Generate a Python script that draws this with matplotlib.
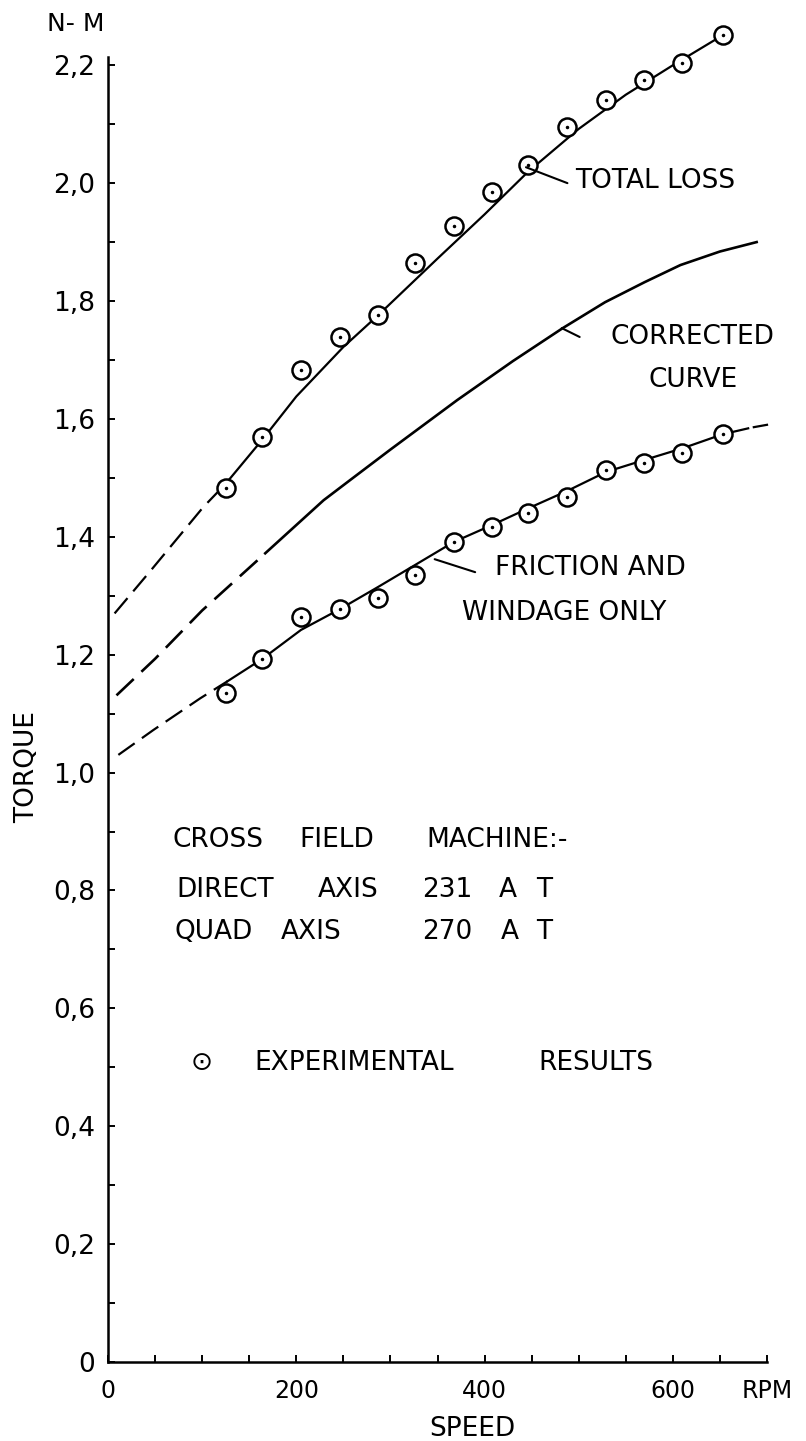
import matplotlib
matplotlib.use('Agg')
import matplotlib.pyplot as plt
from matplotlib.ticker import MultipleLocator

# experimental points (speed in rpm, torque in N-m)
speed = [125, 164, 205, 246, 287, 326, 367, 408, 446, 488, 529, 569, 610, 653]
total_loss = [1.483, 1.569, 1.683, 1.739, 1.776, 1.864, 1.927, 1.985, 2.031, 2.095, 2.141, 2.175, 2.203, 2.251]
friction = [1.135, 1.193, 1.264, 1.277, 1.296, 1.335, 1.391, 1.417, 1.440, 1.467, 1.513, 1.525, 1.542, 1.574]

# hand drawn curves through the points
total_fit_speed = [125, 164, 200, 250, 287, 350, 400, 446, 500, 550, 600, 653]
total_fit = [1.490, 1.565, 1.638, 1.722, 1.776, 1.872, 1.947, 2.019, 2.092, 2.150, 2.200, 2.251]
total_ext_speed = [7, 45, 101, 125]
total_ext = [1.270, 1.342, 1.450, 1.490]

corr_fit_speed = [167, 229, 257, 300, 371, 430, 483, 528, 570, 608, 650, 689]
corr_fit = [1.372, 1.462, 1.496, 1.548, 1.632, 1.698, 1.754, 1.798, 1.832, 1.861, 1.884, 1.900]
corr_ext_speed = [9, 50, 100, 167]
corr_ext = [1.131, 1.193, 1.275, 1.372]

fric_fit_speed = [127, 164, 205, 246, 287, 326, 367, 408, 446, 488, 529, 569, 610, 653, 680]
fric_fit = [1.155, 1.193, 1.242, 1.277, 1.315, 1.352, 1.391, 1.420, 1.448, 1.478, 1.510, 1.530, 1.550, 1.574, 1.584]
fric_ext_speed = [11, 48, 98, 127]
fric_ext = [1.030, 1.072, 1.126, 1.155]
fric_tail_speed = [686, 700]
fric_tail = [1.586, 1.590]

y_ticks = [0, 0.2, 0.4, 0.6, 0.8, 1.0, 1.2, 1.4, 1.6, 1.8, 2.0, 2.2]
y_labels = ['0', '0,2', '0,4', '0,6', '0,8', '1,0', '1,2', '1,4', '1,6', '1,8', '2,0', '2,2']
x_ticks = [0, 200, 400, 600, 700]
x_labels = ['0', '200', '400', '600', 'RPM']

plt.rcParams['font.family'] = ['DejaVu Sans']
FS = 19

W, H = 806, 1441
fig = plt.figure(figsize=(W / 100, H / 100), dpi=100)
ax = fig.add_axes([108 / W, 79 / H, 659 / W, 1305 / H])
ax.set_xlim(0, 700)
ax.set_ylim(0, 2.214)

for s in ['top', 'right']:
    ax.spines[s].set_visible(False)
for s in ['left', 'bottom']:
    ax.spines[s].set_linewidth(1.8)

ax.set_yticks(y_ticks)
ax.set_yticklabels(y_labels)
ax.yaxis.set_minor_locator(MultipleLocator(0.1))
ax.set_xticks(x_ticks)
ax.set_xticklabels(x_labels)
ax.xaxis.set_minor_locator(MultipleLocator(50))
ax.tick_params(axis='both', which='both', direction='in', length=5, width=1.4)
ax.tick_params(axis='y', which='major', pad=9, labelsize=FS)
ax.tick_params(axis='x', which='major', pad=12, labelsize=17)

# curves run past the top of the torque scale, so no clipping
dash = (0, (9, 4))
lw = 1.6
ax.plot(total_fit_speed, total_fit, color='k', lw=lw, clip_on=False)
ax.plot(total_ext_speed, total_ext, color='k', lw=lw, linestyle=dash, clip_on=False)
ax.plot(corr_fit_speed, corr_fit, color='k', lw=1.9, clip_on=False)
ax.plot(corr_ext_speed, corr_ext, color='k', lw=1.9, linestyle=dash, clip_on=False)
ax.plot(fric_fit_speed, fric_fit, color='k', lw=lw, clip_on=False)
ax.plot(fric_ext_speed, fric_ext, color='k', lw=lw, linestyle=dash, clip_on=False)
ax.plot(fric_tail_speed, fric_tail, color='k', lw=lw, clip_on=False)

for vals in [total_loss, friction]:
    ax.plot(speed, vals, 'o', mfc='white', mec='k', ms=13, mew=1.8, clip_on=False)
    ax.plot(speed, vals, '.', color='k', ms=3, clip_on=False)

leader = dict(arrowstyle='-', color='k', lw=1.5, shrinkA=0, shrinkB=0)
ax.annotate('', xy=(444, 2.027), xytext=(488, 2.0), arrowprops=leader)
ax.text(496, 2.003, 'TOTAL LOSS', fontsize=FS, ha='left', va='center')

ax.annotate('', xy=(482, 1.754), xytext=(501, 1.739), arrowprops=leader)
ax.text(621, 1.739, 'CORRECTED', fontsize=FS, ha='center', va='center')
ax.text(621, 1.666, 'CURVE', fontsize=FS, ha='center', va='center')

ax.annotate('', xy=(347, 1.362), xytext=(390, 1.340), arrowprops=leader)
ax.text(411, 1.347, 'FRICTION AND', fontsize=FS, ha='left', va='center')
ax.text(376, 1.271, 'WINDAGE ONLY', fontsize=FS, ha='left', va='center')

# machine data block
block = [
    (69, 0.885, 'CROSS'), (203, 0.885, 'FIELD'), (338, 0.885, 'MACHINE:-'),
    (73, 0.801, 'DIRECT'), (223, 0.801, 'AXIS'), (334, 0.801, '231'),
    (415, 0.801, 'A'), (455, 0.801, 'T'),
    (71, 0.729, 'QUAD'), (184, 0.729, 'AXIS'), (334, 0.729, '270'),
    (417, 0.729, 'A'), (455, 0.729, 'T'),
    (155, 0.507, 'EXPERIMENTAL'), (457, 0.507, 'RESULTS'),
]
for x, y, t in block:
    ax.text(x, y, t, fontsize=FS, ha='left', va='center')
ax.text(99, 0.507, '\u2299', fontsize=FS, ha='center', va='center')

fig.text(76 / W, 1 - 24 / H, 'N- M', fontsize=18, ha='center', va='center')
fig.text(27 / W, 1 - 767 / H, 'TORQUE', fontsize=FS, rotation=90, ha='center', va='center')
fig.text(472 / W, 1 - 1429 / H, 'SPEED', fontsize=FS, ha='center', va='center')

fig.savefig('out.png', dpi=100, facecolor='white')
